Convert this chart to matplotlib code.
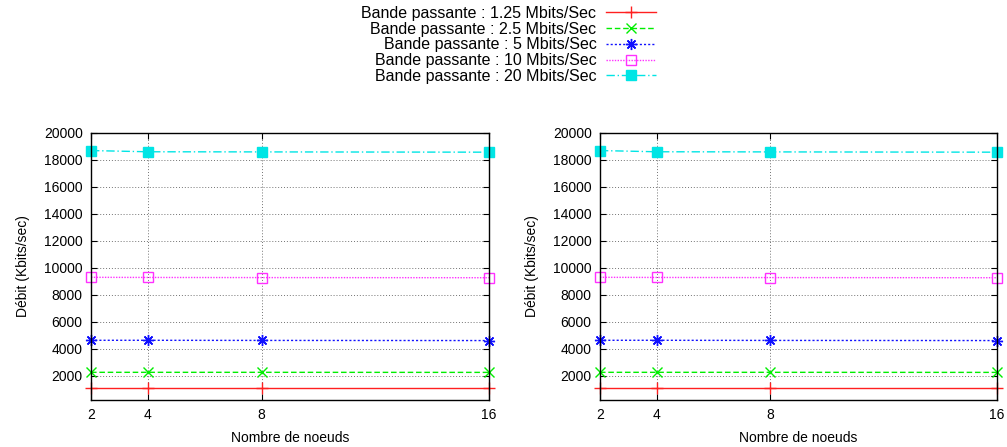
import matplotlib
matplotlib.use("Agg")
import matplotlib.pyplot as plt

plt.rcParams['font.family'] = ['Liberation Sans', 'DejaVu Sans']

nodes = [2, 4, 8, 16]
bw_125 = [1130, 1130, 1130, 1130]
bw_25 = [2270, 2270, 2270, 2265]
bw_5 = [4640, 4640, 4630, 4620]
bw_10 = [9300, 9290, 9280, 9270]
bw_20 = [18680, 18590, 18580, 18560]

labels = ["Bande passante : 1.25 Mbits/Sec",
          "Bande passante : 2.5 Mbits/Sec",
          "Bande passante : 5 Mbits/Sec",
          "Bande passante : 10 Mbits/Sec",
          "Bande passante : 20 Mbits/Sec"]
series = [bw_125, bw_25, bw_5, bw_10, bw_20]
yticks = list(range(2000, 20001, 2000))

styles = [
    dict(color='#ff2020', ls='-', marker='+', ms=8, mew=1),
    dict(color='#00ee00', ls=(0, (4, 2)), marker='x', ms=6.5, mew=1),
    dict(color='#1010ff', ls=(0, (1.5, 1.5)), marker=(8, 2, 0), ms=8, mew=1),
    dict(color='#ff30ff', ls=(0, (1, 1)), marker='s', ms=6.5, mew=1, mfc='none'),
    dict(color='#00e5e5', ls=(0, (6, 2, 1, 2)), marker='s', ms=6.5, mew=1),
]


def draw_panel(ax):
    for vals, lab, st in zip(series, labels, styles):
        ax.plot(nodes, vals, lw=1, label=lab, clip_on=False, **st)
    ax.set_xlim(2, 16)
    ax.set_ylim(220, 20000)
    ax.set_xticks(nodes)
    ax.set_yticks(yticks)
    ax.grid(True, color='0.45', ls=(0, (1, 2)), lw=0.7)
    ax.tick_params(direction='in', top=True, right=True, length=4,
                   labelsize=10, pad=6)
    for s in ax.spines.values():
        s.set_linewidth(1)
    ax.set_xlabel("Nombre de noeuds", fontsize=10, labelpad=6)
    ax.set_ylabel("Débit (Kbits/sec)", fontsize=10, labelpad=10)


fig = plt.figure(figsize=(10.07, 4.47), dpi=100)
ax1 = fig.add_axes([0.0904, 0.1051, 0.3952, 0.598])
ax2 = fig.add_axes([0.5958, 0.1051, 0.3942, 0.598])
draw_panel(ax1)
draw_panel(ax2)

handles, labs = ax1.get_legend_handles_labels()
fig.legend(handles, labs, loc='upper center', bbox_to_anchor=(0.505, 1.005),
           frameon=False, markerfirst=False, fontsize=11.5, handlelength=3.1,
           handletextpad=0.6, labelspacing=0.05, borderaxespad=0.1)

fig.savefig("out.png", dpi=100)
